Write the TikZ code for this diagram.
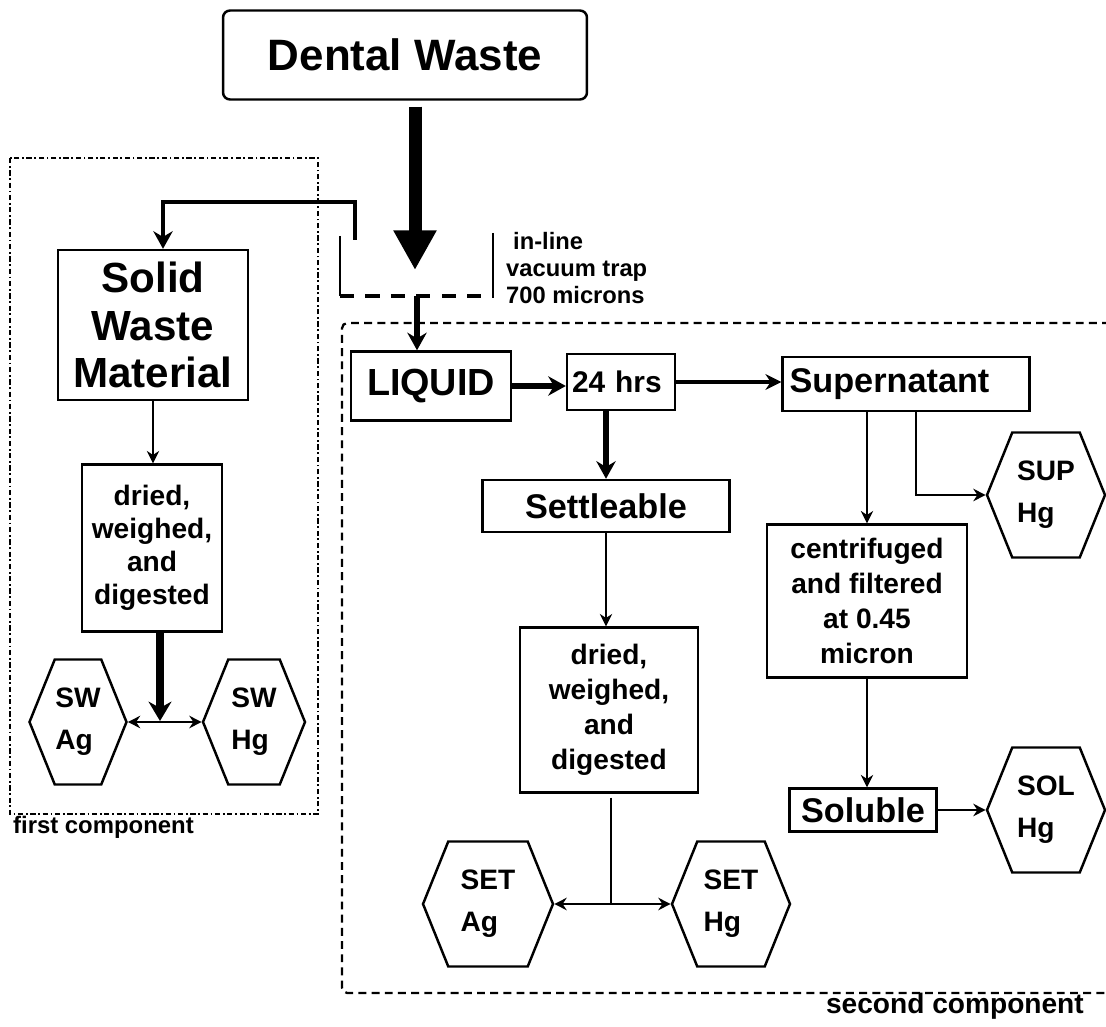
\documentclass[tikz,border=0pt]{standalone}
\usepackage{fontspec}
\setmainfont{Liberation Sans}
\usetikzlibrary{arrows.meta}
\usetikzlibrary{shapes.symbols}

\newcommand\setfs[2]{\fontsize{#1}{#2}\selectfont\bfseries}

\begin{document}
\begin{tikzpicture}[x=0.02cm, y=-0.02cm,
  box/.style={draw, line width=1.4pt, inner sep=0pt, align=center},
  hexa/.style={draw, line width=1.4pt, signal, signal to=west and east,
    signal pointer angle=136, inner sep=0pt, align=left,
    minimum height=2.5cm, font=\setfs{16}{24}},
  thinarrow/.style={line width=1.4pt, -{Stealth[length=7pt, width=7pt]}},
  twoway/.style={line width=1.4pt, {Stealth[length=7pt, width=7pt]}-{Stealth[length=7pt, width=7pt]}},
  midarrow/.style={line width=2.4pt, -{Stealth[length=9pt, width=9pt]}},
  thickarrow/.style={line width=3.2pt, -{Stealth[length=10pt, width=11pt]}},
  frame/.style={line width=1.3pt}]

  \useasboundingbox (0,0) rectangle (1106,1027);

  % top of the flow
  \node[box, rounded corners=4pt, minimum width=7.28cm, minimum height=1.78cm,
    font=\setfs{25}{28}] (dental) at (405,55) {Dental Waste};

  % vacuum trap
  \coordinate (trapin) at (415,270);
  \coordinate (trapout) at (417,296);
  \coordinate (byp) at (355,240);
  \draw[line width=1.5pt] (340,236) -- (340,296);
  \draw[line width=1.5pt] (493,233) -- (493,298);
  \draw[line width=2.3pt, dash pattern=on 8pt off 6.5pt] (340,296) -- (493,296);
  \node[anchor=west, align=left, font=\setfs{13.5}{15.2}] (traplabel) at (500,268)
    {\hspace*{4pt}in-line\\vacuum trap\\700 microns};
  \draw[line width=7.4pt, -{Triangle[length=22.5pt, width=23pt]}]
    (dental.south -| trapin) ++(0,6) -- (trapin);

  % first component
  \draw[frame, dash pattern=on 3pt off 1.5pt on 1pt off 1.5pt]
    (10,158) rectangle (318,814);
  \node[anchor=west, font=\setfs{13.6}{15}] (firstlabel) at (7,827) {first component};

  \node[box, minimum width=3.8cm, minimum height=3cm, font=\setfs{24}{27}]
    (solid) at (153,325) {Solid\\Waste\\Material};
  \node[box, minimum width=2.8cm, minimum height=3.34cm, font=\setfs{16}{18.7}]
    (dried1) at (152,548) {dried,\\weighed,\\and\\digested};
  \node[hexa, minimum width=1.94cm] (swag) at (78,722) {SW\\Ag};
  \node[hexa, minimum width=2.04cm] (swhg) at (254,722) {SW\\Hg};
  \coordinate (swsplit) at (160,721);

  \draw[line width=2.8pt, -{Stealth[length=10pt, width=11pt]}]
    (byp) -- ++(0,-38) -| ([xshift=0.2cm]solid.north);
  \draw[thinarrow] (solid.south) -- (solid.south |- dried1.north);
  \draw[line width=4pt, -{Stealth[length=11pt, width=13pt]}]
    (dried1.south -| swsplit) -- (swsplit);
  \draw[twoway] (swag.east) -- (swhg.west);

  % second component
  \draw[frame, dash pattern=on 4.5pt off 3pt, rounded corners=3pt]
    (1110,323) -- (342,323) -- (342,993) -- (1110,993);
  \node[anchor=east, font=\setfs{16}{18}] (secondlabel) at (1090,1006) {second component};

  \node[box, minimum width=3.2cm, minimum height=1.38cm, font=\setfs{21.5}{24}]
    (liquid) at (431,386) {LIQUID};
  \node[box, minimum width=2.16cm, minimum height=1.12cm, font=\setfs{17}{19},
    align=left, text width=1.96cm] (hrs) at (621,382) {24 hrs};
  \node[box, minimum width=4.94cm, minimum height=1.08cm, font=\setfs{19.5}{22},
    align=left, text width=4.66cm] (super) at (906,384) {Supernatant};
  \node[box, minimum width=4.94cm, minimum height=1.04cm, font=\setfs{19.5}{22}]
    (settle) at (606,506) {Settleable};
  \node[box, minimum width=3.56cm, minimum height=3.3cm, font=\setfs{16}{20}]
    (dried2) at (609,710) {dried,\\weighed,\\and\\digested};
  \node[box, minimum width=4cm, minimum height=3.06cm, font=\setfs{16}{19.8}]
    (centri) at (867,601) {centrifuged\\and filtered\\at 0.45\\micron};
  \node[box, minimum width=2.94cm, minimum height=0.86cm, font=\setfs{19.5}{22}]
    (soluble) at (863,810) {Soluble};
  \node[hexa, minimum width=2.6cm] (setag) at (488,904) {SET\\Ag};
  \node[hexa, minimum width=2.36cm] (sethg) at (731,904) {SET\\Hg};
  \node[hexa, minimum width=2.36cm] (supp) at (1046,495) {SUP\\Hg};
  \node[hexa, minimum width=2.36cm] (solhg) at (1046,810) {SOL\\Hg};
  \coordinate (setsplit) at (611,904);

  \draw[thickarrow] (trapout) -- (trapout |- liquid.north);
  \draw[thickarrow] (liquid.east) -- (liquid.east -| hrs.west);
  \draw[midarrow] (hrs.east) -- (hrs.east -| super.west);
  \draw[thickarrow] (settle.north |- hrs.south) -- (settle.north);
  \draw[thinarrow] (settle.south) -- (settle.south |- dried2.north);
  \draw[line width=1.4pt] ([yshift=-0.08cm]dried2.south -| setsplit) -- (setsplit);
  \draw[twoway] (setag.east) -- (sethg.west);
  \draw[thinarrow] (super.south -| centri.north) -- (centri.north);
  \draw[thinarrow] ([xshift=0.2cm]super.south) |- (supp.west);
  \draw[thinarrow] (centri.south) -- (centri.south |- soluble.north);
  \draw[thinarrow] (soluble.east) -- (solhg.west);

\end{tikzpicture}
\end{document}
